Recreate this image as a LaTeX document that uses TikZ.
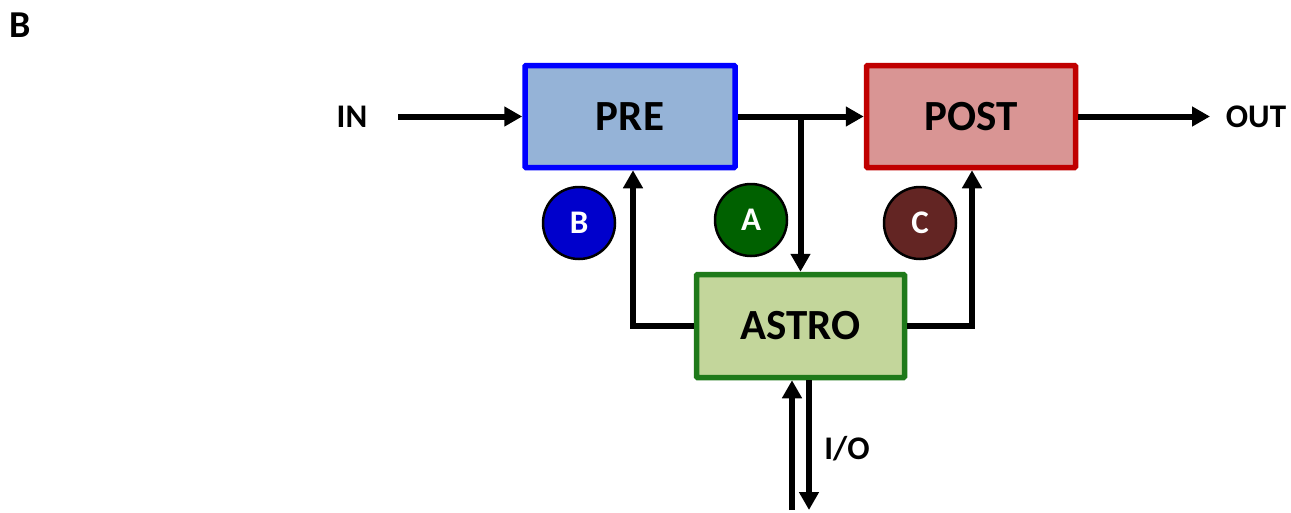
\documentclass[tikz,border=0pt]{standalone}
\usepackage{fontspec}
\setmainfont{Carlito}
\usetikzlibrary{arrows.meta}
\definecolor{prefill}{HTML}{95B3D7}
\definecolor{preline}{HTML}{0000FF}
\definecolor{postfill}{HTML}{D99594}
\definecolor{postline}{HTML}{C00000}
\definecolor{astrofill}{HTML}{C3D69B}
\definecolor{astroline}{HTML}{1F7A1A}
\definecolor{cB}{HTML}{0000CC}
\definecolor{cA}{HTML}{006100}
\definecolor{cC}{HTML}{632523}
\tikzset{
  blockbox/.style={draw, line width=5.5pt, rounded corners=1pt, inner sep=0pt,
    font=\fontsize{43}{46}\selectfont\bfseries, text=black},
  tagcircle/.style={circle, draw=black, line width=2.5pt, minimum size=72pt, inner sep=0pt,
    font=\fontsize{33}{36}\selectfont\bfseries, text=white},
  lbl/.style={font=\fontsize{33}{36}\selectfont\bfseries, inner sep=0pt},
  arr/.style={line width=6pt, -{Triangle[length=18pt,width=19pt]}},
  ln/.style={line width=6pt}
}
\begin{document}
\begin{tikzpicture}[x=1pt,y=-1pt]
\useasboundingbox (0,0) rectangle (1291,512);
\node[font=\fontsize{38}{40}\selectfont\bfseries, inner sep=0pt] (panel) at (20,25) {B};
\node[blockbox, fill=prefill, draw=preline, minimum width=210pt, minimum height=102pt] (pre) at (630,116.5) {PRE};
\node[blockbox, fill=postfill, draw=postline, minimum width=209pt, minimum height=102pt] (post) at (971,116.5) {POST};
\node[blockbox, fill=astrofill, draw=astroline, minimum width=208pt, minimum height=103pt] (astro) at (800.5,326) {ASTRO};
\node[tagcircle, fill=cB] (cb) at (579,223) {B};
\node[tagcircle, fill=cA] (ca) at (751,220) {A};
\node[tagcircle, fill=cC] (cc) at (920,223) {C};
\node[lbl] (in) at (352,117) {IN};
\node[lbl] (out) at (1256,117) {OUT};
\node[lbl] (io) at (847,449) {I/O};
\coordinate (inL) at (398,116.5);
\coordinate (outR) at (1210,116.5);
\coordinate (io1) at (792,510);
\coordinate (io2) at (809,510);
\draw[arr] (inL) -- (pre.west);
\draw[arr] (pre.east) -- (post.west);
\draw[arr] (post.east) -- (outR);
\draw[arr] (pre.east -| astro.north) -- (astro.north);
\draw[arr] (astro.west) -| ([xshift=3pt]pre.south);
\draw[arr] (astro.east) -| ([xshift=1pt]post.south);
\draw[arr] (io1) -- (io1 |- astro.south);
\draw[arr] (io2 |- astro.south) -- (io2);
\end{tikzpicture}
\end{document}
